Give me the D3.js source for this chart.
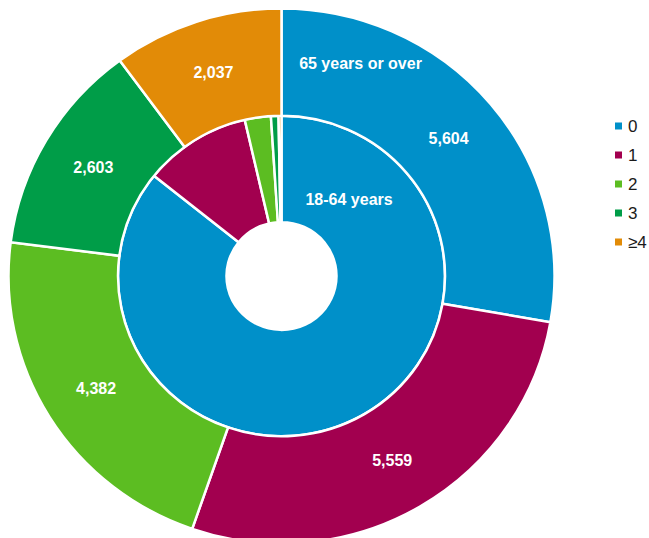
<!DOCTYPE html>
<html>
<head>
<meta charset="utf-8">
<script src="https://cdn.jsdelivr.net/npm/d3@7"></script>
<style>
  html, body { margin: 0; padding: 0; background: #fff; }
  svg { display: block; }
</style>
</head>
<body>
<svg id="chart" width="649" height="538"></svg>
<script>
(function () {
'use strict';

// categories = number of conditions
var categories = ['0', '1', '2', '3', '\u22654'];
var colors = ['#0090c9', '#a2004f', '#5cbd22', '#009d48', '#e28b07'];

// outer ring (labelled in the picture)
var olderName = '65 years or over';
var olderValues = [5604, 5559, 4382, 2603, 2037];

// inner ring (no numbers shown, read as shares of the ring)
var youngerName = '18-64 years';
var youngerValues = [29850, 3700, 895, 260, 100];

var CX = 281.5;
var CY = 276;
var SQUISH = 0.98;

var R_OUTER = 273;
var R_MID = 163.5;
var R_HOLE = 55;

var svg = d3.select('#chart');

var pie = d3.pie().sort(null).value(function (d) { return d; });

var outerArc = d3.arc().innerRadius(R_MID).outerRadius(R_OUTER);
var innerArc = d3.arc().innerRadius(R_HOLE).outerRadius(R_MID);

var rings = svg.append('g')
    .attr('transform', 'translate(' + CX + ',' + CY + ') scale(1,' + SQUISH + ')');

var drawRing = function (values, arc) {
    rings.append('g')
        .selectAll('path')
        .data(pie(values))
        .join('path')
        .attr('d', arc)
        .attr('fill', function (d, i) { return colors[i]; })
        .attr('stroke', '#fff')
        .attr('stroke-width', 2.5);
};

drawRing(youngerValues, innerArc);
drawRing(olderValues, outerArc);

var toPage = function (p) {
    return [CX + p[0], CY + p[1] * SQUISH];
};

var label = function (pos, txt) {
    svg.append('text')
        .attr('x', pos[0])
        .attr('y', pos[1])
        .attr('text-anchor', 'middle')
        .attr('dominant-baseline', 'central')
        .style('font-family', 'Liberation Sans, Arial, sans-serif')
        .style('font-size', '16px')
        .style('font-weight', 'bold')
        .style('fill', '#fff')
        .text(txt);
};

var fmt = d3.format(',');
pie(olderValues).forEach(function (d) {
    label(toPage(outerArc.centroid(d)), fmt(d.data));
});

// series names, placed inside the first slice of each ring
var nameArc = d3.arc();
var at = function (deg, r) {
    var a = deg * Math.PI / 180;
    return toPage(nameArc.centroid({ innerRadius: r, outerRadius: r, startAngle: a, endAngle: a }));
};
label(at(20, 231), olderName);
label(at(41, 103), youngerName);

// legend
var legend = svg.append('g').attr('transform', 'translate(615,126)');
var rows = legend.selectAll('g')
    .data(categories)
    .join('g')
    .attr('transform', function (d, i) { return 'translate(0,' + (i * 29) + ')'; });

rows.append('rect')
    .attr('x', 0)
    .attr('y', -3.5)
    .attr('width', 7)
    .attr('height', 7)
    .attr('fill', function (d, i) { return colors[i]; });

rows.append('text')
    .attr('x', 13)
    .attr('y', 0.5)
    .attr('dominant-baseline', 'central')
    .style('font-family', 'Liberation Sans, Arial, sans-serif')
    .style('font-size', '17px')
    .style('fill', '#1a1a1a')
    .text(function (d) { return d; });
})();
</script>
</body>
</html>
